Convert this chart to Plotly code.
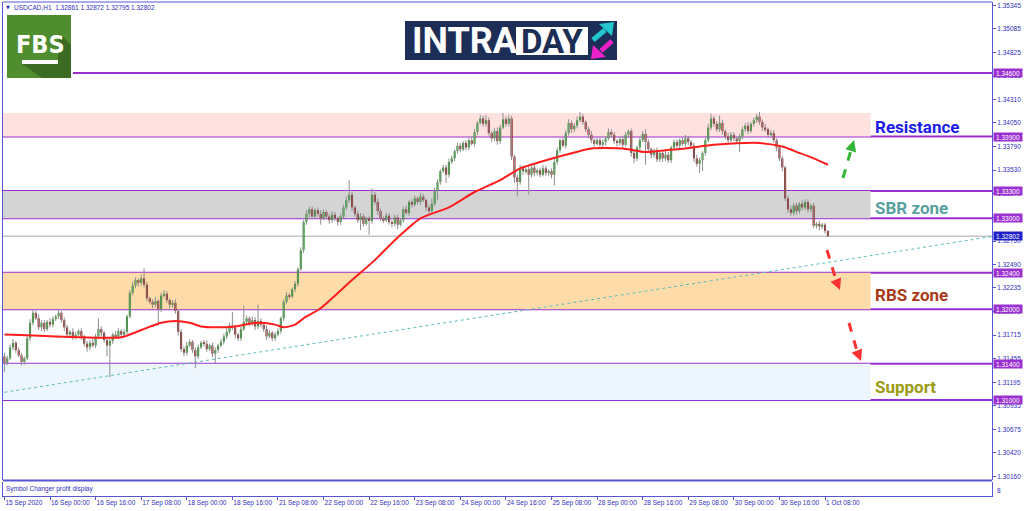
import plotly.graph_objects as go

# ---------------- data (USDCAD H1, 15 Sep 2020 08:00 -> 1 Oct 2020 09:00) ----------------
first_open = 1.3148
closes = [
    1.3141, 1.3146, 1.3158, 1.3163, 1.3155, 1.3149, 1.3142, 1.3146, 1.3168, 1.3185,
    1.3196, 1.3190, 1.3180, 1.3185, 1.3178, 1.3186, 1.3183, 1.3189, 1.3192, 1.3196,
    1.3188, 1.3180, 1.3172, 1.3175, 1.3169, 1.3172, 1.3176, 1.3170, 1.3162, 1.3158,
    1.3163, 1.3160, 1.3170, 1.3178, 1.3174, 1.3166, 1.3160, 1.3165, 1.3172, 1.3170,
    1.3176, 1.3172, 1.3175, 1.3192, 1.3218, 1.3226, 1.3232, 1.3229, 1.3234, 1.3227,
    1.3212, 1.3208, 1.3205, 1.3209, 1.3200, 1.3215, 1.3217, 1.3210, 1.3205, 1.3207,
    1.3198, 1.3175, 1.3156, 1.3152, 1.3160, 1.3164, 1.3155, 1.3148, 1.3158, 1.3163,
    1.3162, 1.3156, 1.3160, 1.3151, 1.3155, 1.3160, 1.3164, 1.3170, 1.3175, 1.3182,
    1.3180, 1.3172, 1.3168, 1.3178, 1.3186, 1.3190, 1.3184, 1.3188, 1.3181, 1.3187,
    1.3183, 1.3178, 1.3170, 1.3174, 1.3168, 1.3172, 1.3176, 1.3190, 1.3208, 1.3215,
    1.3214, 1.3222, 1.3228, 1.3244, 1.3265, 1.3296, 1.3305, 1.3310, 1.3302, 1.3309,
    1.3305, 1.3300, 1.3307, 1.3302, 1.3298, 1.3304, 1.3300, 1.3296, 1.3302, 1.3312,
    1.3320, 1.3326, 1.3312, 1.3305, 1.3298, 1.3302, 1.3294, 1.3300, 1.3297, 1.3326,
    1.3318, 1.3308, 1.3300, 1.3298, 1.3303, 1.3296, 1.3294, 1.3301, 1.3293, 1.3298,
    1.3310, 1.3306, 1.3318, 1.3315, 1.3322, 1.3318, 1.3324, 1.3320, 1.3312, 1.3308,
    1.3316, 1.3330, 1.3340, 1.3352, 1.3356, 1.3348, 1.3362, 1.3366, 1.3374, 1.3380,
    1.3376, 1.3383, 1.3378, 1.3386, 1.3382, 1.3395, 1.3405, 1.3410, 1.3404, 1.3408,
    1.3394, 1.3388, 1.3396, 1.3385, 1.3400, 1.3409, 1.3404, 1.3410, 1.3368, 1.3345,
    1.3340, 1.3355, 1.3352, 1.3354, 1.3348, 1.3356, 1.3350, 1.3353, 1.3348, 1.3355,
    1.3350, 1.3352, 1.3348, 1.3362, 1.3375, 1.3386, 1.3380, 1.3394, 1.3405, 1.3398,
    1.3402, 1.3408, 1.3412, 1.3406, 1.3398, 1.3392, 1.3386, 1.3382, 1.3386, 1.3381,
    1.3384, 1.3388, 1.3395, 1.3392, 1.3385, 1.3383, 1.3387, 1.3381, 1.3392, 1.3396,
    1.3372, 1.3366, 1.3378, 1.3386, 1.3393, 1.3384, 1.3376, 1.3370, 1.3374, 1.3365,
    1.3372, 1.3366, 1.3370, 1.3364, 1.3378, 1.3384, 1.3380, 1.3386, 1.3382, 1.3388,
    1.3384, 1.3380, 1.3366, 1.3360, 1.3364, 1.3372, 1.3386, 1.3400, 1.3410, 1.3404,
    1.3398, 1.3405, 1.3396, 1.3390, 1.3386, 1.3392, 1.3388, 1.3385, 1.3390, 1.3398,
    1.3402, 1.3396, 1.3404, 1.3408, 1.3412, 1.3406, 1.3400, 1.3398, 1.3392, 1.3394,
    1.3386, 1.3378, 1.3366, 1.3356, 1.3322, 1.3310, 1.3306, 1.3314, 1.3308, 1.3316,
    1.3312, 1.3318, 1.3310, 1.3314, 1.3292, 1.3294, 1.3291, 1.3293, 1.32861, 1.32802,
]
# upper / lower wick lengths beyond the body, in units of 0.0001
up_wick = [
    4, 3, 3, 4, 2, 3, 3, 2, 3, 4,
    3, 2, 4, 3, 3, 2, 4, 3, 2, 3,
    2, 3, 3, 2, 4, 3, 2, 3, 2, 3,
    3, 4, 3, 12, 3, 2, 3, 3, 2, 4,
    3, 2, 3, 2, 3, 4, 3, 2, 4, 11,
    3, 2, 3, 4, 2, 3, 4, 3, 2, 3,
    4, 2, 3, 3, 4, 3, 2, 3, 3, 2,
    3, 4, 2, 3, 3, 2, 3, 3, 4, 3,
    15, 3, 2, 3, 18, 3, 2, 4, 3, 18,
    3, 2, 4, 3, 2, 3, 3, 2, 3, 4,
    3, 2, 3, 2, 3, 2, 4, 3, 3, 2,
    3, 4, 3, 2, 3, 4, 3, 2, 3, 3,
    4, 16, 3, 2, 3, 4, 3, 2, 3, 7,
    3, 4, 3, 2, 3, 3, 2, 3, 3, 2,
    3, 4, 2, 3, 3, 2, 4, 3, 2, 3,
    6, 4, 3, 2, 3, 3, 4, 3, 2, 3,
    3, 2, 3, 3, 4, 3, 2, 4, 3, 6,
    3, 2, 3, 4, 3, 7, 3, 4, 3, 2,
    3, 4, 3, 2, 4, 3, 3, 2, 3, 4,
    3, 2, 3, 4, 3, 2, 3, 3, 4, 3,
    3, 4, 5, 3, 2, 3, 4, 2, 3, 3,
    3, 2, 4, 3, 3, 2, 3, 4, 3, 2,
    3, 4, 2, 3, 3, 5, 3, 2, 3, 4,
    3, 2, 4, 3, 2, 3, 3, 2, 3, 4,
    3, 2, 3, 4, 3, 2, 3, 4, 5, 3,
    3, 8, 3, 2, 4, 3, 3, 2, 3, 3,
    3, 4, 2, 3, 3, 5, 3, 4, 2, 3,
    3, 2, 3, 3, 2, 3, 4, 3, 3, 2,
    4, 3, 3, 2, 3, 2, 3, 2, 2, 1.1,
]
dn_wick = [
    10, 3, 2, 3, 3, 2, 4, 3, 2, 3,
    3, 2, 3, 4, 3, 2, 3, 3, 2, 3,
    3, 4, 2, 3, 3, 2, 3, 4, 3, 5,
    3, 2, 3, 3, 4, 3, 12, 35, 3, 2,
    3, 3, 2, 3, 2, 3, 3, 4, 3, 3,
    3, 2, 4, 3, 18, 3, 2, 3, 4, 3,
    3, 4, 3, 4, 3, 2, 3, 13, 3, 2,
    3, 3, 2, 4, 11, 3, 2, 3, 3, 2,
    3, 4, 3, 3, 2, 3, 3, 2, 4, 3,
    3, 3, 4, 2, 3, 3, 2, 3, 3, 2,
    3, 2, 3, 3, 2, 3, 3, 4, 3, 2,
    3, 7, 2, 3, 4, 3, 3, 4, 3, 2,
    3, 3, 4, 3, 3, 11, 3, 2, 15, 3,
    3, 4, 3, 3, 2, 3, 4, 3, 5, 2,
    3, 2, 3, 3, 2, 3, 3, 2, 4, 3,
    3, 3, 10, 3, 2, 9, 3, 2, 3, 3,
    3, 2, 3, 3, 2, 3, 3, 2, 3, 3,
    3, 4, 3, 4, 3, 2, 3, 3, 4, 6,
    16, 3, 4, 3, 22, 3, 4, 3, 3, 2,
    3, 3, 4, 12, 3, 3, 2, 3, 3, 4,
    3, 3, 2, 3, 3, 4, 3, 3, 2, 3,
    3, 4, 2, 3, 3, 4, 3, 3, 2, 3,
    4, 5, 3, 3, 2, 25, 3, 4, 3, 3,
    3, 4, 3, 3, 3, 2, 3, 3, 2, 3,
    3, 3, 4, 3, 10, 12, 3, 2, 3, 3,
    3, 3, 4, 3, 3, 2, 3, 3, 12, 3,
    3, 3, 2, 3, 3, 3, 4, 3, 3, 2,
    3, 4, 3, 4, 3, 4, 3, 3, 4, 3,
    3, 3, 4, 3, 3, 3, 4, 3, 3, 0.7,
]
# moving average (red line), read at sample bars
ma_bars = [0, 27, 41, 48, 55, 60, 65, 69, 74, 81, 86, 90, 95, 98, 102, 105, 111, 122, 130,
           137, 146, 156, 165, 174, 181, 188, 197, 206, 217, 225, 232, 239, 249, 260, 265,
           273, 279, 284, 289]
ma_vals = [1.3172, 1.3169, 1.3169, 1.3177, 1.3185, 1.3187, 1.3185, 1.3181, 1.3180, 1.3181,
           1.3184, 1.3185, 1.3183, 1.3180, 1.3183, 1.3190, 1.3201, 1.3232, 1.3254, 1.3276,
           1.3300, 1.3312, 1.3329, 1.3342, 1.3355, 1.3362, 1.3370, 1.3377, 1.3377, 1.3373,
           1.3375, 1.3377, 1.3381, 1.3383, 1.3383, 1.3379, 1.3372, 1.3366, 1.3359]
# time axis
tick_bars = [0, 16, 32, 48, 64, 80, 96, 112, 128, 144, 160, 176, 192, 208, 224, 240, 256, 272, 288]
tick_text = ["15 Sep 2020", "16 Sep 00:00", "16 Sep 16:00", "17 Sep 08:00", "18 Sep 00:00",
             "18 Sep 16:00", "21 Sep 08:00", "22 Sep 00:00", "22 Sep 16:00", "23 Sep 08:00",
             "24 Sep 00:00", "24 Sep 16:00", "25 Sep 08:00", "28 Sep 00:00", "28 Sep 16:00",
             "29 Sep 08:00", "30 Sep 00:00", "30 Sep 16:00", "1 Oct 08:00"]
# price axis
price_ticks = [1.35345, 1.35085, 1.34825, 1.34565, 1.34310, 1.34050, 1.33790, 1.33530,
               1.33270, 1.33010, 1.32750, 1.32490, 1.32235, 1.31975, 1.31715, 1.31455,
               1.31195, 1.30935, 1.30675, 1.30420, 1.30160]
levels = [1.34600, 1.33900, 1.33300, 1.33000, 1.32400, 1.32000, 1.31400, 1.31000]
zone_names = ["Resistance", "SBR zone", "RBS zone", "Support"]
zone_lo = [1.33900, 1.33000, 1.32000, 1.31000]
zone_hi = [1.34160, 1.33300, 1.32400, 1.31400]
zone_end_bar = 304
trend_bars = [0, 347]
trend_vals = [1.31085, 1.32802]
symbol = "USDCAD,H1"
y_range = [1.301193, 1.353817]
x_range = [-0.5, 346.6]

assert len(closes) == len(up_wick) == len(dn_wick) == 290
assert len(ma_bars) == len(ma_vals)

# ---------------- derived candle parts ----------------
n = len(closes)
bars = list(range(n))
opens = [first_open] + closes[:-1]
highs = [round(max(o, c) + u * 1e-4, 5) for o, c, u in zip(opens, closes, up_wick)]
lows = [round(min(o, c) - d * 1e-4, 5) for o, c, d in zip(opens, closes, dn_wick)]
bases = [min(o, c) for o, c in zip(opens, closes)]
heights = [max(abs(c - o), 0.00003) for o, c in zip(opens, closes)]
colors = ["#179617" if c >= o else "#8b0c0c" for o, c in zip(opens, closes)]

wx, wy = [], []
for i, h, l in zip(bars, highs, lows):
    wx += [i, i, None]
    wy += [l, h, None]

# ---------------- geometry helpers (pixel -> paper) ----------------
W, H = 1024, 511
ML, MR, MT, MB = 3, 32, 2, 15
def px(x):
    return (x - ML) / (W - ML - MR)
def py(y):
    return (H - MB - y) / (H - MT - MB)

FRAME = "#5656d4"
PURPLE = "#9b30d0"
AXFONT = dict(family="Liberation Sans", size=6.5, color="#2f2fc0")

fig = go.Figure()
fig.add_trace(go.Scatter(x=trend_bars, y=trend_vals, mode="lines",
                         line=dict(color="#5cbcbc", width=1, dash="dot"), hoverinfo="skip"))
fig.add_trace(go.Scatter(x=wx, y=wy, mode="lines", line=dict(color="#8e8e8e", width=1),
                         hoverinfo="skip", connectgaps=False))
fig.add_trace(go.Bar(x=bars, y=heights, base=bases, width=0.72,
                     marker=dict(color=colors, line=dict(width=0)), hoverinfo="skip"))
fig.add_trace(go.Scatter(x=ma_bars, y=ma_vals, mode="lines",
                         line=dict(color="#ff1c1c", width=2, shape="spline", smoothing=0.6),
                         hoverinfo="skip"))
fig.add_trace(go.Scatter(x=[0], y=[0.5], xaxis="x", yaxis="y2", mode="markers",
                         marker=dict(opacity=0), hoverinfo="skip"))

shapes = []
zone_colors = ["#ffe2e0", "#d4d4d4", "#fddcaa", "#eef6fd"]
for lo, hi, col in zip(zone_lo, zone_hi, zone_colors):
    shapes.append(dict(type="rect", xref="x", yref="y", x0=x_range[0], x1=zone_end_bar, y0=lo, y1=hi,
                       fillcolor=col, line=dict(width=0), layer="below"))
shapes.append(dict(type="line", xref="paper", yref="y", x0=0, x1=1, y0=closes[-1], y1=closes[-1],
                   line=dict(color="#c4c4c4", width=1.5), layer="below"))
for lv in levels:
    x0 = px(73) if lv == max(levels) else 0
    shapes.append(dict(type="line", xref="paper", yref="y", x0=x0, x1=1, y0=lv, y1=lv,
                       line=dict(color=PURPLE, width=2), layer="below"))
# frame
shapes.append(dict(type="line", xref="paper", yref="paper", x0=0, x1=1, y0=1, y1=1,
                   line=dict(color=FRAME, width=1)))
shapes.append(dict(type="line", xref="paper", yref="paper", x0=0, x1=1, y0=py(480.5), y1=py(480.5),
                   line=dict(color=FRAME, width=2)))

# FBS logo
shapes.append(dict(type="rect", xref="paper", yref="paper", x0=px(7), x1=px(71), y0=py(78), y1=py(15),
                   fillcolor="#4f8d2f", line=dict(width=0)))
shapes.append(dict(type="path", xref="paper", yref="paper",
                   path=f"M {px(59)},{py(33)} L {px(71)},{py(45)} L {px(71)},{py(78)} L {px(42)},{py(78)} "
                        f"L {px(22)},{py(64)} L {px(58)},{py(64)} L {px(58)},{py(56)} Z",
                   fillcolor="#3c6c23", line=dict(width=0)))
shapes.append(dict(type="rect", xref="paper", yref="paper", x0=px(22), x1=px(58), y0=py(64), y1=py(60),
                   fillcolor="white", line=dict(width=0)))
# INTRADAY logo
shapes.append(dict(type="rect", xref="paper", yref="paper", x0=px(405), x1=px(617), y0=py(60), y1=py(21),
                   fillcolor="#1c2e56", line=dict(width=0)))
shapes.append(dict(type="rect", xref="paper", yref="paper", x0=px(516), x1=px(588), y0=py(55), y1=py(27),
                   fillcolor="white", line=dict(width=0)))
shapes.append(dict(type="line", xref="paper", yref="paper", x0=px(593), y0=py(40), x1=px(605), y1=py(30),
                   line=dict(color="#22c6cc", width=5)))
shapes.append(dict(type="path", xref="paper", yref="paper",
                   path=f"M {px(614)},{py(22)} L {px(599)},{py(24)} L {px(612)},{py(36)} Z",
                   fillcolor="#22c6cc", line=dict(width=0)))
shapes.append(dict(type="line", xref="paper", yref="paper", x0=px(612), y0=py(41), x1=px(601), y1=py(51),
                   line=dict(color="#ea22c8", width=5)))
shapes.append(dict(type="path", xref="paper", yref="paper",
                   path=f"M {px(591)},{py(59)} L {px(606)},{py(57)} L {px(593)},{py(45)} Z",
                   fillcolor="#ea22c8", line=dict(width=0)))

# dashed arrows
arrows = [  # (tail px, tail py, shaft end px, py, tip px, py, color)
    (843, 178, 851, 150, 854, 140, "#35b535"),
    (827, 250, 836, 280, 840, 290, "#ff3030"),
    (849, 323, 857, 351, 861, 361, "#ff3030"),
]
annotations = []
for tx, ty, sx, sy, hx, hy, col in arrows:
    shapes.append(dict(type="line", xref="paper", yref="paper", x0=px(tx), y0=py(ty), x1=px(sx), y1=py(sy),
                       line=dict(color=col, width=3, dash="dash")))
    annotations.append(dict(xref="paper", yref="paper", x=px(hx), y=py(hy), ax=(sx - hx),
                            ay=(sy - hy), showarrow=True, arrowhead=2, arrowsize=0.9,
                            arrowwidth=2.5, arrowcolor=col, text=""))

# zone labels
label_pos = [127, 208, 295, 387]
label_colors = ["#1c1ce6", "#58a0a0", "#a83a18", "#9a9a12"]
for name, yy, col in zip(zone_names, label_pos, label_colors):
    annotations.append(dict(xref="paper", yref="paper", x=px(873), y=py(yy), xanchor="left",
                            yanchor="middle", text=f"<b>{name}</b>", showarrow=False,
                            font=dict(family="Roboto", size=17, color=col)))

# price labels on the right axis
for lv in levels:
    annotations.append(dict(xref="paper", yref="y", x=1, y=lv, xanchor="left", xshift=1,
                            yanchor="middle", text=f"{lv:.5f}", showarrow=False, bgcolor=PURPLE,
                            width=28, height=8, borderpad=0,
                            font=dict(family="Liberation Sans", size=6.5, color="white")))
annotations.append(dict(xref="paper", yref="y", x=1, y=closes[-1], xanchor="left", xshift=1,
                        yanchor="middle", text=f"{closes[-1]:.5f}", showarrow=False, bgcolor="#2020c8",
                        width=28, height=8, borderpad=0,
                        font=dict(family="Liberation Sans", size=6.5, color="white")))

# header / subwindow texts
header = f"{symbol}  {opens[-1]:.5f} {highs[-1]:.5f} {lows[-1]:.5f} {closes[-1]:.5f}"
annotations.append(dict(xref="paper", yref="paper", x=px(4), y=py(7), xanchor="left", yanchor="middle",
                        text="▼", showarrow=False, font=dict(family="DejaVu Sans", size=5, color="#2b2bb8")))
annotations.append(dict(xref="paper", yref="paper", x=px(12), y=py(7), xanchor="left", yanchor="middle",
                        text=header, showarrow=False, font=AXFONT))
annotations.append(dict(xref="paper", yref="paper", x=px(4), y=py(488.5), xanchor="left", yanchor="middle",
                        text="Symbol Changer profit display", showarrow=False, font=AXFONT))
annotations.append(dict(xref="paper", yref="paper", x=px(995), y=py(490), xanchor="left", yanchor="middle",
                        text="8", showarrow=False, font=AXFONT))
# logo texts
annotations.append(dict(xref="paper", yref="paper", x=px(40), y=py(44), xanchor="center", yanchor="middle",
                        text="<b>FBS</b>", showarrow=False,
                        font=dict(family="DejaVu Sans Condensed", size=25, color="white")))
annotations.append(dict(xref="paper", yref="paper", x=px(410), y=py(41.5), xanchor="left", yanchor="middle",
                        text="<b>INTRA</b>", showarrow=False,
                        font=dict(family="Roboto", size=36, color="white")))
annotations.append(dict(xref="paper", yref="paper", x=px(552), y=py(41.5), xanchor="center", yanchor="middle",
                        text="<b>DAY</b>", showarrow=False,
                        font=dict(family="Roboto", size=33, color="#1c2e56")))

fig.update_layout(
    width=W, height=H,
    margin=dict(l=ML, r=MR, t=MT, b=MB, pad=0, autoexpand=False),
    paper_bgcolor="white", plot_bgcolor="white",
    showlegend=False, hovermode=False,
    shapes=shapes, annotations=annotations,
    xaxis=dict(domain=[0, 1], anchor="y2", range=x_range, tickmode="array",
               tickvals=tick_bars, ticktext=tick_text, ticks="outside", ticklen=3,
               tickcolor=FRAME, tickfont=AXFONT, ticklabelposition="outside right",
               tickangle=0, automargin=False,
               showgrid=False, zeroline=False, showline=True, linecolor=FRAME, linewidth=1),
    yaxis=dict(domain=[py(480), 1], anchor="x", side="right", range=y_range,
               tickmode="array", tickvals=price_ticks, ticktext=[f"{v:.5f}" for v in price_ticks],
               ticks="outside", ticklen=3, tickcolor=FRAME, tickfont=AXFONT, automargin=False,
               showgrid=False, zeroline=False, showline=True, mirror=True,
               linecolor=FRAME, linewidth=1),
    yaxis2=dict(domain=[0, py(482)], anchor="x", range=[0, 1], showticklabels=False,
                showgrid=False, zeroline=False, showline=True, mirror=True, automargin=False,
                linecolor=FRAME, linewidth=1, ticks=""),
)

fig.write_html("out.html", config={"displayModeBar": False},
               post_script="document.body.style.margin='0px';document.body.style.overflow='hidden';")
